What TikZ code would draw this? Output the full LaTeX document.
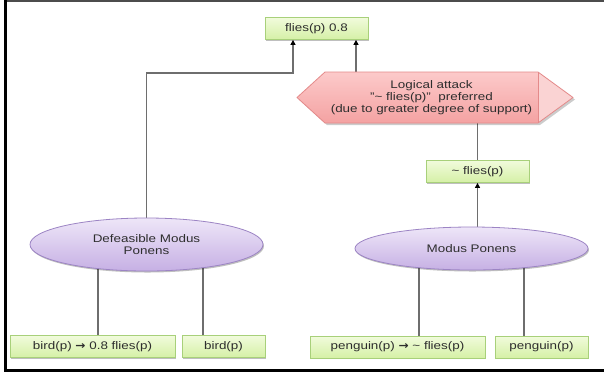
\documentclass[tikz,border=0pt]{standalone}
\usepackage{fontspec}
\setmainfont{Liberation Sans}[FakeStretch=1.22]
\newfontfamily\symfont{DejaVu Sans}[FakeStretch=1.1]
\usetikzlibrary{arrows.meta,calc,shapes.geometric,shadows}
\pgfdeclarelayer{background}
\pgfdeclarelayer{paper}
\pgfsetlayers{paper,background,main}
\definecolor{boxtop}{HTML}{F1FBDC}
\definecolor{boxbot}{HTML}{D5F0A6}
\definecolor{boxline}{HTML}{A8D07A}
\definecolor{elltop}{HTML}{EEE6F8}
\definecolor{ellbot}{HTML}{C6B0E4}
\definecolor{ellline}{HTML}{9C84C4}
\definecolor{hextop}{HTML}{FCCACA}
\definecolor{hexbot}{HTML}{F4A2A2}
\definecolor{hextip}{HTML}{FAD3D3}
\definecolor{hexline}{HTML}{E48A8A}
\definecolor{lineg}{HTML}{6E6E6E}
\definecolor{txt}{HTML}{2E2E2E}
\begin{document}
\begin{tikzpicture}[x=1pt,y=-1pt,
  lbl/.style={font=\fontsize{11}{12}\selectfont, text=txt},
  box/.style={lbl, draw=boxline, line width=0.8pt, top color=boxtop, bottom color=boxbot,
    minimum height=22pt, inner sep=0pt,
    drop shadow={shadow xshift=1pt, shadow yshift=-1.2pt, opacity=0.25, fill=black}},
  ell/.style={lbl, ellipse, draw=ellline, line width=0.8pt, top color=elltop, bottom color=ellbot,
    inner sep=0pt, align=center,
    drop shadow={shadow xshift=1pt, shadow yshift=-1.5pt, opacity=0.25, fill=black}},
  conn/.style={draw=lineg, line width=1.2pt},
  arr/.style={conn, -{Triangle[length=5pt,width=5pt,color=black]}}
]
\useasboundingbox (0,0) rectangle (604,373);
\begin{pgfonlayer}{paper}
\fill[white] (0,0) rectangle (604,373);
\end{pgfonlayer}
% frame
\draw[draw=black!70, line width=2pt] (5,1) -- (604,1);
\draw[draw=black, line width=2.5pt] (5.3,0) -- (5.3,370.5) -- (604,370.5);

% hexagon (logical attack)
\fill[black, opacity=0.2] (299,99.5) -- (327,74) -- (540,74) -- (575,99.5) -- (540,125) -- (327,125) -- cycle;
\shade[top color=hextop, bottom color=hexbot] (297,97.5) -- (325,72) -- (538,72) -- (538,123) -- (325,123) -- cycle;
\fill[hextip] (538,72) -- (573,97.5) -- (538,123) -- cycle;
\draw[hexline, line width=0.8pt, line join=round] (297,97.5) -- (325,72) -- (538,72) -- (573,97.5) -- (538,123) -- (325,123) -- cycle;
\draw[hexline, line width=0.6pt] (538,72) -- (538,123);
\node[lbl, minimum width=213pt, minimum height=51pt, inner sep=0pt, align=center] (hex) at (431.5,97.5)
  {Logical attack\\"\textasciitilde{} flies(p)"\ \ preferred\\(due to greater degree of support)};

% boxes
\node[box, minimum width=103pt] (top) at (316.5,28.5) {flies(p) 0.8};
\node[box, minimum width=103pt] (neg) at (477.5,171.5) {\textasciitilde{} flies(p)};
\node[box, minimum width=165pt] (rule1) at (92.5,346.5) {bird(p) {\symfont\bfseries →} 0.8 flies(p)};
\node[box, minimum width=83pt] (fact1) at (223.5,346.5) {bird(p)};
\node[box, minimum width=175pt] (rule2) at (397.5,347) {penguin(p) {\symfont\bfseries →} \textasciitilde{} flies(p)};
\node[box, minimum width=93pt] (fact2) at (541.5,347) {penguin(p)};

% ellipses
\node[ell, minimum width=233pt, minimum height=53pt] (dmp) at (146.5,244.5) {Defeasible Modus\\Ponens};
\node[ell, minimum width=233pt, minimum height=43pt] (mp) at (471.5,248.5) {Modus Ponens};

% connector coordinates
\coordinate (j1) at (293,73);
\coordinate (j2) at (356,72);
\coordinate (b1) at (98,0);
\coordinate (b2) at (203,0);
\coordinate (m1) at (419,0);
\coordinate (m2) at (524,0);

\begin{pgfonlayer}{background}
\draw[arr] (dmp.north) |- (j1) -- (j1 |- top.south);
\draw[arr] (j2 |- hex.north) -- (j2 |- top.south);
\draw[conn] (hex.south -| neg.north) -- (neg.north);
\draw[arr] (mp.center -| neg.south) -- (neg.south);
\draw[conn] (b1 |- dmp.center) -- (b1 |- rule1.north);
\draw[conn] (b2 |- dmp.center) -- (b2 |- fact1.north);
\draw[conn] (m1 |- mp.center) -- (m1 |- rule2.north);
\draw[conn] (m2 |- mp.center) -- (m2 |- fact2.north);
\end{pgfonlayer}
\end{tikzpicture}
\end{document}
